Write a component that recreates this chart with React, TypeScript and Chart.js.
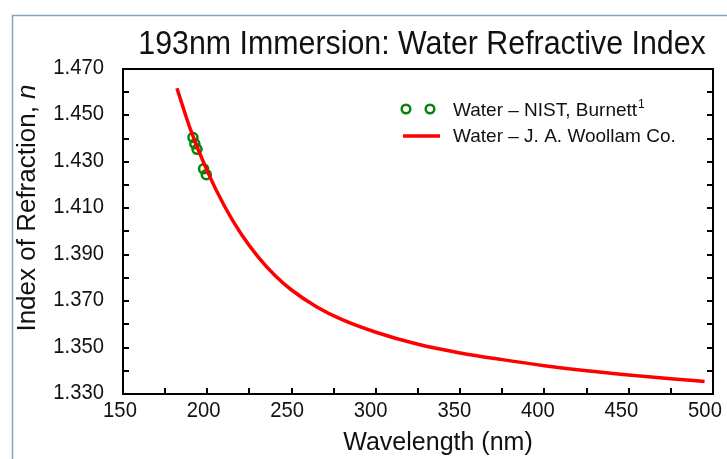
import { useEffect, useRef } from "react";
import { Chart, registerables } from "chart.js";

Chart.register(...registerables);

const wavelengthsWoollam = [182, 190, 200, 210, 220, 230, 240, 250, 265, 280, 300, 325, 350, 375, 400, 425, 450, 475, 495];
const indexWoollam = [1.4617, 1.444, 1.426, 1.4112, 1.399, 1.3892, 1.3812, 1.3748, 1.3675, 1.362, 1.3566, 1.3514, 1.3477, 1.3448, 1.3422, 1.34, 1.3382, 1.3366, 1.3354];

const wavelengthsNist = [191.5, 192.6, 193.9, 197.8, 199.4];
const indexNist = [1.4405, 1.4378, 1.4354, 1.427, 1.4245];

const xTickLabels = ["150", "200", "250", "300", "350", "400", "450", "500"];
const yTickLabels = ["1.330", "1.350", "1.370", "1.390", "1.410", "1.430", "1.450", "1.470"];

const titleText = "193nm Immersion: Water Refractive Index";
const xTitle = "Wavelength (nm)";
const yTitleMain = "Index of Refraction, ";
const yTitleItalic = "n";
const legendNist = "Water \u2013 NIST, Burnett";
const legendNistSup = "1";
const legendWoollam = "Water \u2013 J. A. Woollam Co.";

const FONT = '"Liberation Sans", Arial, Helvetica, sans-serif';
const GREEN = "#07820a";
const RED = "#ff0000";

function drawText(ctx: CanvasRenderingContext2D, text: string, x: number, y: number, font: string, sx: number, align: CanvasTextAlign, baseline: CanvasTextBaseline = "alphabetic") {
  ctx.save();
  ctx.translate(x, y);
  ctx.scale(sx, 1);
  ctx.font = font;
  ctx.textAlign = align;
  ctx.textBaseline = baseline;
  ctx.fillStyle = "#111";
  ctx.fillText(text, 0, 0);
  ctx.restore();
}

const decorPlugin = {
  id: "decor",
  afterDraw(chart: any) {
    const ctx: CanvasRenderingContext2D = chart.ctx;
    const { left, right, top, bottom } = chart.chartArea;
    const xs = chart.scales.x;
    const ys = chart.scales.y;
    ctx.save();

    // outer slide frame
    ctx.strokeStyle = "#86a3c6";
    ctx.lineWidth = 1.5;
    ctx.beginPath();
    ctx.moveTo(12.5, 459);
    ctx.lineTo(12.5, 15.5);
    ctx.lineTo(727, 15.5);
    ctx.stroke();

    // plot frame
    ctx.strokeStyle = "#000";
    ctx.lineWidth = 2;
    ctx.strokeRect(left, top, right - left, bottom - top);

    // y ticks (every 0.01), inward on both sides
    ctx.beginPath();
    for (let i = 1; i < 14; i++) {
      const v = ys.min + i * 0.01;
      const py = Math.round(ys.getPixelForValue(v));
      ctx.moveTo(left, py);
      ctx.lineTo(left + 6, py);
      ctx.moveTo(right, py);
      ctx.lineTo(right - 6, py);
    }
    // x ticks (every 25), inward
    for (let i = 1; i < 14; i++) {
      const v = xs.min + i * 25;
      const px = Math.round(xs.getPixelForValue(v));
      ctx.moveTo(px, bottom);
      ctx.lineTo(px, bottom - 6);
    }
    ctx.stroke();

    // y tick labels
    const tickFont = `22px ${FONT}`;
    yTickLabels.forEach((lab) => {
      const py = ys.getPixelForValue(Number(lab));
      drawText(ctx, lab, 104, py - 1, tickFont, 0.92, "right", "middle");
    });
    // x tick labels
    xTickLabels.forEach((lab) => {
      const v = Number(lab);
      const px = xs.getPixelForValue(v) - 3 - ((v - 150) / 350) * 5;
      drawText(ctx, lab, px, 417, tickFont, 0.92, "center", "alphabetic");
    });

    // title
    drawText(ctx, titleText, 422, 54, `33px ${FONT}`, 0.92, "center");

    // x axis title
    drawText(ctx, xTitle, 438, 450, `25px ${FONT}`, 1.0, "center");

    // y axis title (rotated, italic n)
    ctx.save();
    ctx.translate(35, 208);
    ctx.rotate(-Math.PI / 2);
    ctx.font = `26px ${FONT}`;
    const w1 = ctx.measureText(yTitleMain).width;
    ctx.font = `italic 26px ${FONT}`;
    const w2 = ctx.measureText(yTitleItalic).width;
    const start = -(w1 + w2) / 2;
    ctx.fillStyle = "#111";
    ctx.textAlign = "left";
    ctx.textBaseline = "alphabetic";
    ctx.font = `26px ${FONT}`;
    ctx.fillText(yTitleMain, start, 0);
    ctx.font = `italic 26px ${FONT}`;
    ctx.fillText(yTitleItalic, start + w1, 0);
    ctx.restore();

    // legend
    ctx.strokeStyle = GREEN;
    ctx.lineWidth = 2.5;
    [406, 430].forEach((cx) => {
      ctx.beginPath();
      ctx.arc(cx, 109, 4.3, 0, Math.PI * 2);
      ctx.stroke();
    });
    const legFont = `19px ${FONT}`;
    drawText(ctx, legendNist, 453, 116, legFont, 1.0, "left");
    ctx.font = legFont;
    const wl = ctx.measureText(legendNist).width;
    drawText(ctx, legendNistSup, 453 + wl + 1, 108, `12px ${FONT}`, 1.0, "left");

    ctx.strokeStyle = RED;
    ctx.lineWidth = 3.5;
    ctx.beginPath();
    ctx.moveTo(403, 136);
    ctx.lineTo(440, 136);
    ctx.stroke();
    drawText(ctx, legendWoollam, 453, 142, legFont, 1.0, "left");

    ctx.restore();
  },
};

export default function App() {
  const canvasRef = useRef<HTMLCanvasElement | null>(null);

  useEffect(() => {
    const canvas = canvasRef.current;
    if (!canvas) return;
    const woollam = wavelengthsWoollam.map((x, i) => ({ x, y: indexWoollam[i] }));
    const nist = wavelengthsNist.map((x, i) => ({ x, y: indexNist[i] }));
    const chart = new Chart(canvas, {
      type: "scatter",
      data: {
        datasets: [
          {
            label: legendWoollam,
            data: woollam,
            showLine: true,
            borderColor: RED,
            backgroundColor: RED,
            borderWidth: 3.5,
            pointRadius: 0,
            cubicInterpolationMode: "monotone",
            order: 1,
          } as any,
          {
            label: legendNist,
            data: nist,
            showLine: false,
            pointRadius: 4.5,
            pointBorderWidth: 2.5,
            pointBorderColor: GREEN,
            pointBackgroundColor: "rgba(0,0,0,0)",
            order: 2,
          } as any,
        ],
      },
      options: {
        responsive: false,
        animation: false,
        events: [],
        layout: { padding: { left: 0, top: 69, right: 14, bottom: 0 } },
        plugins: {
          legend: { display: false },
          tooltip: { enabled: false },
          title: { display: false },
        },
        scales: {
          x: {
            type: "linear",
            min: 150,
            max: 500,
            ticks: { display: false, stepSize: 50 },
            grid: { display: false },
            border: { display: false },
            afterFit: (scale: any) => {
              scale.height = 65;
            },
          },
          y: {
            type: "linear",
            min: 1.33,
            max: 1.47,
            ticks: { display: false, stepSize: 0.02 },
            grid: { display: false },
            border: { display: false },
            afterFit: (scale: any) => {
              scale.width = 123;
            },
          },
        },
      },
      plugins: [decorPlugin],
    });
    return () => chart.destroy();
  }, []);

  return (
    <div style={{ position: "absolute", left: 0, top: 0, width: 727, height: 459, background: "#fff" }}>
      <canvas ref={canvasRef} width={727} height={459} style={{ display: "block" }} />
    </div>
  );
}
